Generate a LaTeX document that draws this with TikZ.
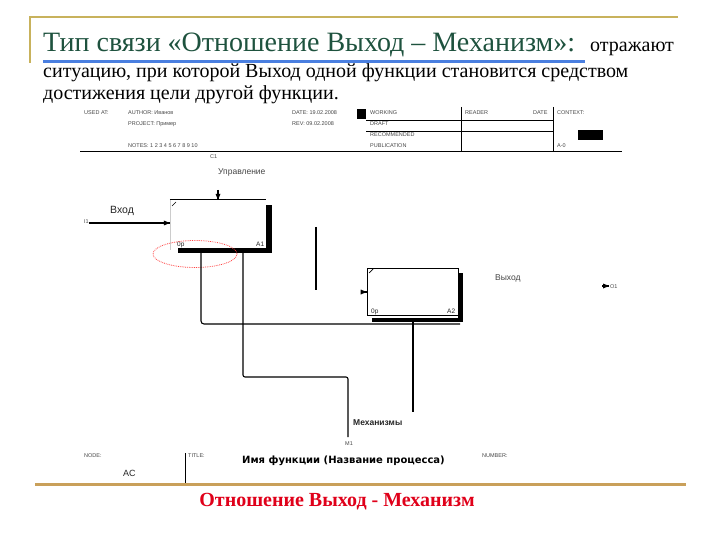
\documentclass[tikz,border=0pt]{standalone}
\usepackage{fontspec}
\setmainfont{Liberation Serif}
\setsansfont{Liberation Sans}
\newfontfamily\dvs{DejaVu Sans}
\usetikzlibrary{calc,arrows.meta,shapes.geometric}
\definecolor{goldc}{RGB}{200,178,92}
\definecolor{tang}{RGB}{201,160,90}
\definecolor{titleg}{RGB}{30,82,62}
\definecolor{blueln}{RGB}{74,127,224}
\definecolor{redt}{RGB}{224,0,26}
\definecolor{tgray}{RGB}{70,70,70}
\tikzset{
  tiny/.style={font=\sffamily\fontsize{5.5}{6}\selectfont, text=tgray, inner sep=0pt, anchor=base west},
  lbl/.style={font=\sffamily\fontsize{8.5}{9}\selectfont, text=black!85, inner sep=0pt, anchor=base west},
  wire/.style={draw=black, line width=1.1pt},
  tipr/.style={fill=black},
  fbox/.style={draw=none, inner sep=0pt, minimum width=#1},
  shade/.style={fill=black}
}
\begin{document}
\begin{tikzpicture}[x=1pt,y=-1pt]
\useasboundingbox (0,0) rectangle (720,540);
\fill[white] (0,0) rectangle (720,540);
% frame
\draw[goldc, line width=2pt] (30,63) -- (30,17) -- (678,17);
\draw[tang, line width=3pt] (35,484) -- (686,484);
% title
\node[font=\fontsize{28}{30}\selectfont, text=titleg, anchor=base west, inner sep=0pt] (title) at (43,52) {Тип связи «Отношение Выход – Механизм»:};
\node[font=\fontsize{20}{22}\selectfont, anchor=base west, inner sep=0pt] (t2) at (590,52) {отражают};
\draw[blueln, line width=3pt] (43,62) -- (585,62);
\node[font=\fontsize{20}{22}\selectfont, anchor=base west, inner sep=0pt] (t3) at (43,78) {ситуацию, при которой Выход одной функции становится средством};
\node[font=\fontsize{20}{22}\selectfont, anchor=base west, inner sep=0pt] (t4) at (43,100) {достижения цели другой функции.};
% header
\node[tiny] (usedat) at (84,115) {USED AT:};
\node[tiny] (author) at (128,115) {AUTHOR: Иванов};
\node[tiny] (project) at (128,126) {PROJECT: Пример};
\node[tiny] (notes) at (128,148) {NOTES: 1 2 3 4 5 6 7 8 9 10};
\node[tiny] (date) at (292,115) {DATE: 19.02.2008};
\node[tiny] (rev) at (292,126) {REV: 09.02.2008};
\fill (357,109) rectangle (366,119);
\node[tiny] (working) at (370,115) {WORKING};
\node[tiny] (draft) at (370,126) {DRAFT};
\node[tiny] (recom) at (370,137) {RECOMMENDED};
\node[tiny] (publ) at (370,148) {PUBLICATION};
\node[tiny] (reader) at (465,115) {READER};
\node[tiny] (rdate) at (533,115) {DATE};
\node[tiny] (context) at (557,115) {CONTEXT:};
\node[tiny] (a0) at (557,148) {A-0};
\fill (578,130) rectangle (603,140);
\draw[black, line width=0.7pt] (366,120) -- (553,120) (366,131) -- (553,131);
\draw[black, line width=0.7pt] (461,107) -- (461,152) (553,107) -- (553,152);
\draw[black, line width=1pt] (80,152) -- (622,152);
% A1
\node[fbox=96pt, minimum height=50pt] (A1) at (218,225) {};
\draw[wire] (A1.north west) -- (A1.north east);
\draw[black!20, line width=0.5pt] (A1.north west) -- (A1.south west);
\fill[shade] (266,205) rectangle (272,253);
\fill[shade] (178,248) rectangle (272,253);
\draw[wire, line width=0.7pt] (172,206) -- (176,202);
\node[lbl, font=\sffamily\fontsize{6.5}{6}\selectfont] (A1c) at (177,246) {0р};
\node[lbl, font=\sffamily\fontsize{6.5}{6}\selectfont] (A1n) at (256,246) {A1};
% A2
\node[draw=black, line width=0.7pt, inner sep=0pt, minimum width=91pt, minimum height=47pt] (A2) at (412.5,291.5) {};
\fill[shade] (458,273) rectangle (463,322);
\fill[shade] (372,318) rectangle (463,322);
\draw[wire, line width=0.7pt] (369,273) -- (373,269);
\node[lbl, font=\sffamily\fontsize{6.5}{6}\selectfont] (A2c) at (371,313) {0р};
\node[lbl, font=\sffamily\fontsize{6.5}{6}\selectfont] (A2n) at (447,313) {A2};
% highlight
\node[draw=red!65!pink, densely dotted, line width=0.8pt, ellipse, minimum width=84pt, minimum height=27pt] (hl) at (195,254) {};
% labels
\node[tiny] (c1) at (210,159) {C1};
\node[lbl, text=tgray] (ctrl) at (218,175) {Управление};
\node[lbl, font=\sffamily\fontsize{10.5}{11}\selectfont] (vhod) at (110,214) {Вход};
\node[tiny] (ilab) at (84,224) {I1};
\node[lbl, text=tgray] (vyhod) at (495,280) {Выход};
\node[tiny] (olab) at (610,288) {O1};
\node[lbl, font=\sffamily\bfseries\fontsize{8.5}{9}\selectfont] (mech) at (353,425) {Механизмы};
\node[tiny] (mlab) at (345,445) {M1};
% connectors
\coordinate (inStart) at (89,223);
\coordinate (inEnd) at (A1.west |- inStart);
\draw[wire] (inStart) -- (inEnd);
\fill[tipr] (inEnd) -- ++(-6,-2.5) -- ++(0,5) -- cycle;
\coordinate (ctStart) at (218,190);
\coordinate (ctEnd) at (A1.north);
\draw[wire] (ctStart) -- (ctEnd);
\fill[tipr] (ctEnd) -- ++(-2.5,-6) -- ++(5,0) -- cycle;
\coordinate (a1b1) at (201,253);
\coordinate (j1) at (460,324);
\draw[wire, rounded corners=3pt] (a1b1) |- (j1);
\coordinate (a1b2) at (243,253);
\coordinate (m1e) at (348,437);
\coordinate (m1c) at (348,377);
\draw[wire, rounded corners=2pt] (a1b2) |- (m1c) -- (m1e);
\coordinate (a2b) at (413,322);
\coordinate (a2bd) at (413,412);
\draw[wire] (a2b) -- (a2bd);
\coordinate (vt) at (316,227);
\coordinate (vb) at (316,290);
\draw[wire] (vt) -- (vb);
\coordinate (a2in) at (361,292);
\coordinate (a2it) at (A2.west |- a2in);
\draw[wire] (a2in) -- (a2it);
\fill[tipr] (a2it) -- ++(-6,-2.5) -- ++(0,5) -- cycle;
\coordinate (o1a) at (602,286);
\coordinate (o1t) at (609,286);
\draw[wire] (o1a) -- (o1t);
\fill[tipr] (o1t) -- ++(-6,-2.5) -- ++(0,5) -- cycle;
% footer
\node[tiny] (nodelab) at (84,457) {NODE:};
\node[lbl, font=\sffamily\fontsize{9}{9}\selectfont] (ac) at (123,476) {AC};
\draw[black, line width=1pt] (185,453) -- (185,483);
\node[tiny] (ttl) at (188,457) {TITLE:};
\node[font=\dvs\bfseries\fontsize{10}{11}\selectfont, anchor=base west, inner sep=0pt] (fname) at (242,463) {Имя функции (Название процесса)};
\node[tiny] (number) at (482,457) {NUMBER:};
\node[font=\bfseries\fontsize{20}{22}\selectfont, text=redt, inner sep=0pt] (bot) at (337,502) {Отношение Выход - Механизм};
\end{tikzpicture}
\end{document}
